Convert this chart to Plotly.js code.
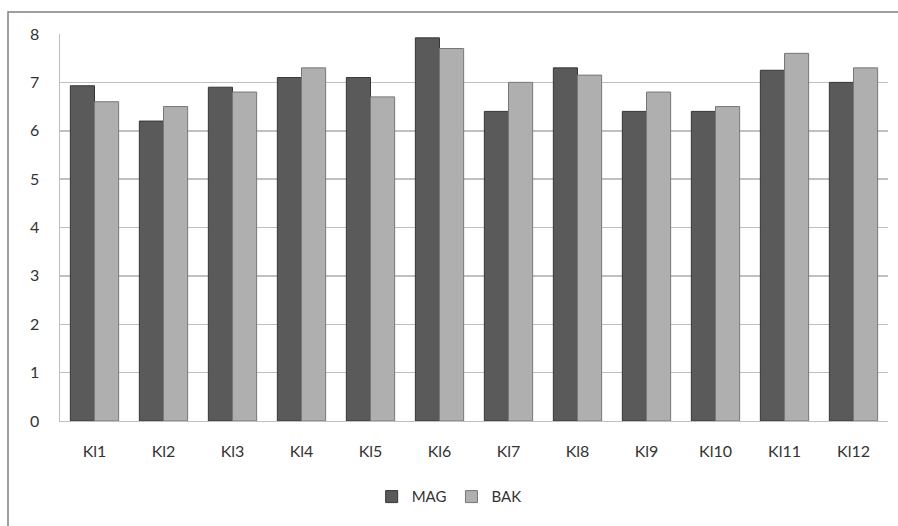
<!DOCTYPE html>
<html>
<head>
<meta charset="utf-8">
<script src="https://cdn.plot.ly/plotly-3.0.1.min.js"></script>
<style>html,body{margin:0;padding:0;background:#fff;}#chart{width:898px;height:526px;}</style>
</head>
<body>
<div id="chart"></div>
<script>
var categories = ["Kl1","Kl2","Kl3","Kl4","Kl5","Kl6","Kl7","Kl8","Kl9","Kl10","Kl11","Kl12"];
var magValues = [6.93, 6.2, 6.9, 7.1, 7.1, 7.92, 6.4, 7.3, 6.4, 6.4, 7.25, 7.0];
var bakValues = [6.6, 6.5, 6.8, 7.3, 6.7, 7.7, 7.0, 7.15, 6.8, 6.5, 7.6, 7.3];
var yTicks = [0,1,2,3,4,5,6,7,8];

var traces = [
  {type:'bar', name:'MAG', x:categories, y:magValues,
   marker:{color:'#5a5a5a', line:{color:'#363636', width:1}}},
  {type:'bar', name:'BAK', x:categories, y:bakValues,
   marker:{color:'#afafaf', line:{color:'#777777', width:1}}}
];

var layout = {
  width:898, height:526,
  margin:{l:60, r:10, t:34, b:105},
  paper_bgcolor:'#ffffff', plot_bgcolor:'#ffffff',
  font:{family:'Lato, Open Sans, sans-serif', size:16, color:'#333333'},
  barmode:'group', bargap:0.3, bargroupgap:0,
  showlegend:true,
  legend:{orientation:'h', x:0.47, xanchor:'center', y:-0.196, yanchor:'middle',
          font:{size:15, color:'#333333'}, itemwidth:30, traceorder:'normal'},
  xaxis:{showgrid:false, showline:true, linecolor:'#bfbfbf', linewidth:1,
         ticks:'', ticklabelstandoff:16, tickfont:{size:16, color:'#333333'}},
  yaxis:{range:[0,8], tickvals:yTicks, showgrid:true, gridcolor:'#c0c0c0', gridwidth:1.5,
         showline:true, linecolor:'#bfbfbf', linewidth:1.5, zeroline:false,
         ticks:'', ticklabelstandoff:16, tickfont:{size:16, color:'#333333'}},
  shapes:[
    {type:'rect', xref:'paper', yref:'paper', x0:-0.0628, x1:1.05, y0:-0.4, y1:1.0568,
     line:{color:'#808080', width:1.5}, fillcolor:'rgba(0,0,0,0)', layer:'below'}
  ]
};

Plotly.newPlot('chart', traces, layout, {displayModeBar:false, staticPlot:true});
</script>
</body>
</html>
